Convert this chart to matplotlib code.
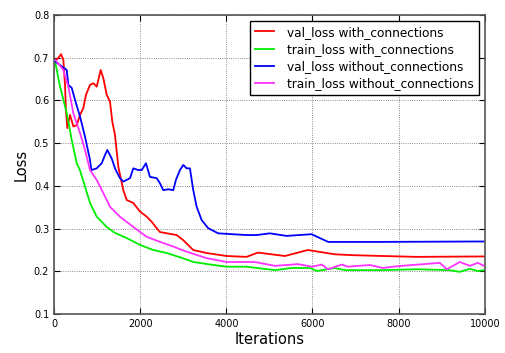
import matplotlib
matplotlib.use('Agg')
import matplotlib.pyplot as plt

# valori
val_with_x = [0, 100, 162, 216, 255, 278, 309, 371, 448, 527, 603, 680, 742, 835, 912, 991,
              1083, 1144, 1223, 1299, 1353, 1415, 1492, 1608, 1687, 1840, 1995, 2151, 2267,
              2383, 2459, 2847, 3000, 3232, 3543, 4006, 4470, 4733, 5359, 5893, 6519, 6914,
              7633, 8415, 10000]
val_with_y = [0.691, 0.699, 0.708, 0.695, 0.636, 0.574, 0.535, 0.566, 0.539, 0.542, 0.566,
              0.582, 0.613, 0.636, 0.640, 0.632, 0.671, 0.652, 0.613, 0.597, 0.550, 0.519,
              0.445, 0.390, 0.367, 0.360, 0.340, 0.328, 0.316, 0.301, 0.292, 0.285, 0.273,
              0.250, 0.243, 0.236, 0.234, 0.244, 0.236, 0.250, 0.240, 0.238, 0.236, 0.234, 0.235]

train_with_x = [0, 30, 140, 295, 411, 527, 600, 720, 836, 990, 1222, 1415, 1685, 1995, 2305,
                2615, 2925, 3235, 3700, 4010, 4470, 5127, 5522, 5939, 6102, 6519, 6751, 7633,
                8400, 9170, 9419, 9651, 9837, 10000]
train_with_y = [0.690, 0.688, 0.632, 0.570, 0.507, 0.453, 0.437, 0.398, 0.360, 0.328, 0.304,
                0.290, 0.278, 0.262, 0.250, 0.243, 0.233, 0.222, 0.215, 0.211, 0.211, 0.203,
                0.208, 0.208, 0.201, 0.208, 0.203, 0.203, 0.205, 0.203, 0.199, 0.206, 0.201, 0.203]

val_without_x = [0, 23, 295, 332, 411, 487, 603, 719, 835, 865, 990, 1107, 1183, 1237, 1339,
                 1415, 1531, 1608, 1763, 1840, 1956, 2035, 2134, 2227, 2383, 2459, 2536, 2652,
                 2768, 2830, 2923, 3000, 3079, 3155, 3232, 3311, 3427, 3580, 3812, 4470, 4703,
                 5011, 5398, 5978, 6364, 7563, 10000]
val_without_y = [0.690, 0.691, 0.671, 0.636, 0.629, 0.601, 0.562, 0.515, 0.461, 0.437, 0.441,
                 0.453, 0.472, 0.484, 0.464, 0.441, 0.418, 0.410, 0.418, 0.441, 0.437, 0.437,
                 0.453, 0.421, 0.418, 0.406, 0.390, 0.392, 0.390, 0.414, 0.437, 0.449, 0.441,
                 0.441, 0.390, 0.351, 0.320, 0.301, 0.289, 0.285, 0.285, 0.289, 0.283, 0.287,
                 0.269, 0.269, 0.270]

train_without_x = [0, 30, 216, 332, 448, 603, 719, 835, 990, 1145, 1300, 1530, 1840, 2150,
                   2460, 2770, 3080, 3540, 4010, 4660, 5127, 5661, 5986, 6218, 6357, 6682,
                   6821, 7331, 7633, 7958, 8955, 9118, 9419, 9651, 9837, 10000]
train_without_y = [0.693, 0.695, 0.671, 0.632, 0.570, 0.524, 0.484, 0.437, 0.414, 0.383, 0.351,
                   0.328, 0.304, 0.281, 0.269, 0.258, 0.246, 0.231, 0.222, 0.222, 0.213, 0.217,
                   0.211, 0.216, 0.205, 0.216, 0.211, 0.215, 0.208, 0.212, 0.220, 0.205, 0.222,
                   0.213, 0.220, 0.212]

fig = plt.figure(figsize=(5.05, 3.53), dpi=100)
ax = fig.add_axes([0.107, 0.110, 0.853, 0.848])

ax.plot(val_with_x, val_with_y, color='#ff0000', lw=1.3, label='val_loss with_connections')
ax.plot(train_with_x, train_with_y, color='#00ee00', lw=1.3, label='train_loss with_connections')
ax.plot(val_without_x, val_without_y, color='#0000ff', lw=1.3, label='val_loss without_connections')
ax.plot(train_without_x, train_without_y, color='#ff33ff', lw=1.3, label='train_loss without_connections')

ax.set_xlim(0, 10000)
ax.set_ylim(0.1, 0.8)
ax.set_xticks([0, 2000, 4000, 6000, 8000, 10000])
ax.set_yticks([0.1, 0.2, 0.3, 0.4, 0.5, 0.6, 0.7, 0.8])
ax.tick_params(direction='in', labelsize=7, top=True, right=True, length=4)
for s in ax.spines.values():
    s.set_color('#555555')
    s.set_linewidth(1.2)
ax.grid(True, color='black', linestyle=':', linewidth=0.6, alpha=0.6)
ax.set_xlabel('Iterations', fontsize=10.5, labelpad=2)
ax.set_ylabel('Loss', fontsize=10.5)

leg = ax.legend(loc='upper right', fontsize=8.7, fancybox=False, framealpha=1,
                handlelength=1.6, handletextpad=1.1, labelspacing=0.35,
                borderaxespad=0.5)
leg.get_frame().set_edgecolor('black')

plt.savefig('out.png', dpi=100)
